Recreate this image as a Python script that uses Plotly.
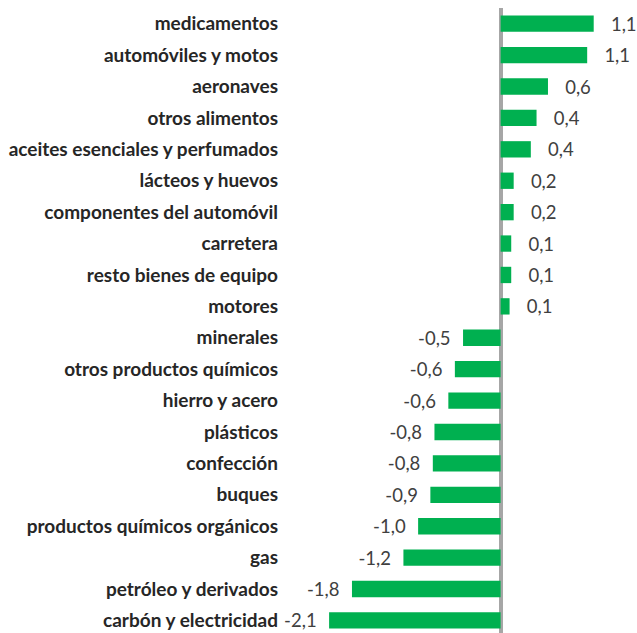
import plotly.graph_objects as go

categories = [
    "medicamentos", "automóviles y motos", "aeronaves", "otros alimentos",
    "aceites esenciales y perfumados", "lácteos y huevos", "componentes del automóvil",
    "carretera", "resto bienes de equipo", "motores", "minerales",
    "otros productos químicos", "hierro y acero", "plásticos", "confección",
    "buques", "productos químicos orgánicos", "gas", "petróleo y derivados",
    "carbón y electricidad",
]
values = [1.14, 1.06, 0.58, 0.44, 0.37, 0.16, 0.16, 0.13, 0.13, 0.11,
          -0.46, -0.56, -0.64, -0.81, -0.83, -0.86, -1.01, -1.19, -1.82, -2.1]

NB = "\u00a0"
labels = []
for v in values:
    s = f"{v:.1f}".replace(".", ",")
    labels.append(NB * 3 + s if v >= 0 else s + NB * 2)

fig = go.Figure(go.Bar(
    x=values, y=categories, orientation="h",
    marker=dict(color="#00B050", line=dict(width=0)),
    width=0.52,
    text=labels, textposition="outside", cliponaxis=False,
    constraintext="none",
    textfont=dict(family="Lato", size=18.5, color="#404040"),
))

fig.update_layout(
    width=637, height=633,
    margin=dict(l=285, r=0, t=8, b=0),
    plot_bgcolor="white", paper_bgcolor="white",
    showlegend=False,
    xaxis=dict(range=[-2.64, 1.67], showgrid=False, showticklabels=False,
               zeroline=True, zerolinecolor="#A6A6A6", zerolinewidth=4,
               showline=False, ticks="", automargin=False),
    yaxis=dict(range=[19.4, -0.5], showgrid=False, ticks="", showline=False,
               zeroline=False, ticklabelstandoff=6, automargin=False,
               tickfont=dict(family="Lato", size=19, color="#262626", weight="bold")),
)

fig.write_html("out.html", config={"displayModeBar": False},
               post_script="document.body.style.margin='0';document.body.style.overflow='hidden';")
